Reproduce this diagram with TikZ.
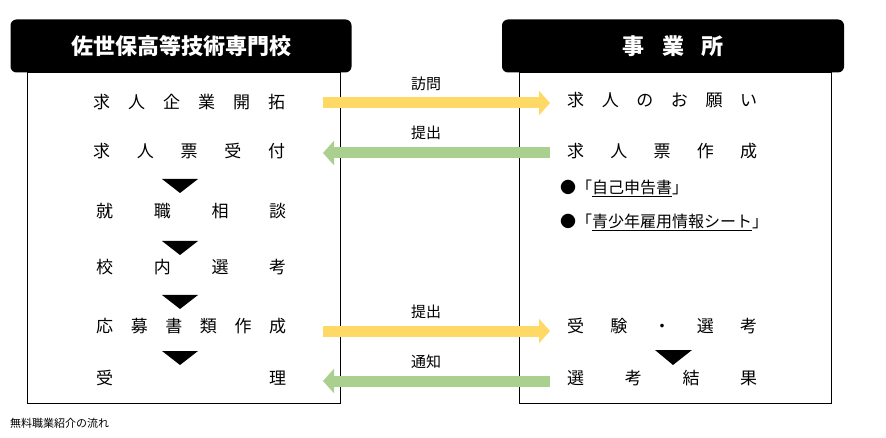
\documentclass[tikz,border=0pt]{standalone}
\usepackage{fontspec}
\setmainfont{Noto Sans CJK JP}
\usepackage{tikz}
\usetikzlibrary{positioning}
\usetikzlibrary{arrows.meta}
\newcommand{\spread}[2]{\makebox[#1][s]{#2}}
\newcommand{\gap}{\hfill}
\begin{document}
\begin{tikzpicture}
  [ x=1pt, y=-1pt,
    head/.style={fill=black, text=white, rounded corners=6pt, inner sep=0pt,
      minimum width=#1, minimum height=53pt, font=\fontsize{22}{22}\selectfont\bfseries},
    body/.style={draw=black, line width=1pt},
    row/.style={anchor=west, inner sep=0pt, font=\fontsize{17}{17}\selectfont},
    tri/.style={fill=black},
    flow/.style={line width=11pt, -{Triangle[length=11pt,width=24pt]}},
    lbl/.style={font=\fontsize{15}{15}\selectfont, inner sep=0pt}
  ]
  \useasboundingbox (0,0) rectangle (886,438);

  % frames
  \draw [body] (27,73) rectangle (340,403);
  \draw [body] (519,73) rectangle (831,403);
  \node (hl) at (181,46) [head=341pt] {佐世保高等技術専門校};
  \node (hr) at (673,46) [head=342pt] {事\hspace{0.8em}業\hspace{0.8em}所};

  % school side
  \node (l1) at (93,102) [row] {\spread{192pt}{求\gap{}人\gap{}企\gap{}業\gap{}開\gap{}拓}};
  \node (l2) at (93,151) [row] {\spread{192pt}{求\gap{}人\gap{}票\gap{}受\gap{}付}};
  \node (l3) at (96,211) [row] {\spread{190pt}{就\gap{}職\gap{}相\gap{}談}};
  \node (l4) at (96,267) [row] {\spread{190pt}{校\gap{}内\gap{}選\gap{}考}};
  \node (l5) at (96,326) [row] {\spread{190pt}{応\gap{}募\gap{}書\gap{}類\gap{}作\gap{}成}};
  \node (l6) at (96,378) [row] {\spread{190pt}{受\gap{}理}};

  % office side
  \node (r1) at (567,100) [row] {\spread{190pt}{求\gap{}人\gap{}の\gap{}お\gap{}願\gap{}い}};
  \node (r2) at (567,151) [row] {\spread{190pt}{求\gap{}人\gap{}票\gap{}作\gap{}成}};
  \node (r3) at (560,188) [row, font=\fontsize{16}{16}\selectfont] {●「\underline{自己申告書}」};
  \node (r4) at (560,222) [row, font=\fontsize{16}{16}\selectfont] {●「\underline{青少年雇用情報シート}」};
  \node (r5) at (567,326) [row] {\spread{190pt}{受\gap{}験\gap{}・\gap{}選\gap{}考}};
  \node (r6) at (567,378) [row] {\spread{190pt}{選\gap{}考\gap{}結\gap{}果}};

  % down marks
  \foreach \ty in {179,241,295,351}
    \fill [tri] (162,\ty) -- (198,\ty) -- (180,\ty+14) -- cycle;
  \fill [tri] (655,350) -- (692,350) -- (673,365) -- cycle;

  % flows
  \coordinate (a1) at (323,103);  \coordinate (b1) at (550,103);
  \coordinate (a2) at (550,153);  \coordinate (b2) at (323,153);
  \coordinate (a3) at (323,331);  \coordinate (b3) at (550,331);
  \coordinate (a4) at (550,381);  \coordinate (b4) at (323,381);
  \draw [flow, draw={rgb,255:red,255;green,217;blue,102}] (a1) -- (b1);
  \draw [flow, draw={rgb,255:red,169;green,208;blue,142}] (a2) -- (b2);
  \draw [flow, draw={rgb,255:red,255;green,217;blue,102}] (a3) -- (b3);
  \draw [flow, draw={rgb,255:red,169;green,208;blue,142}] (a4) -- (b4);
  \node (t1) at (426,84)  [lbl] {訪問};
  \node (t2) at (426,133) [lbl] {提出};
  \node (t3) at (426,312) [lbl] {提出};
  \node (t4) at (426,362) [lbl] {通知};

  \node (cap) at (10,423) [anchor=west, inner sep=0pt, font=\fontsize{11}{11}\selectfont] {無料職業紹介の流れ};
\end{tikzpicture}
\end{document}
